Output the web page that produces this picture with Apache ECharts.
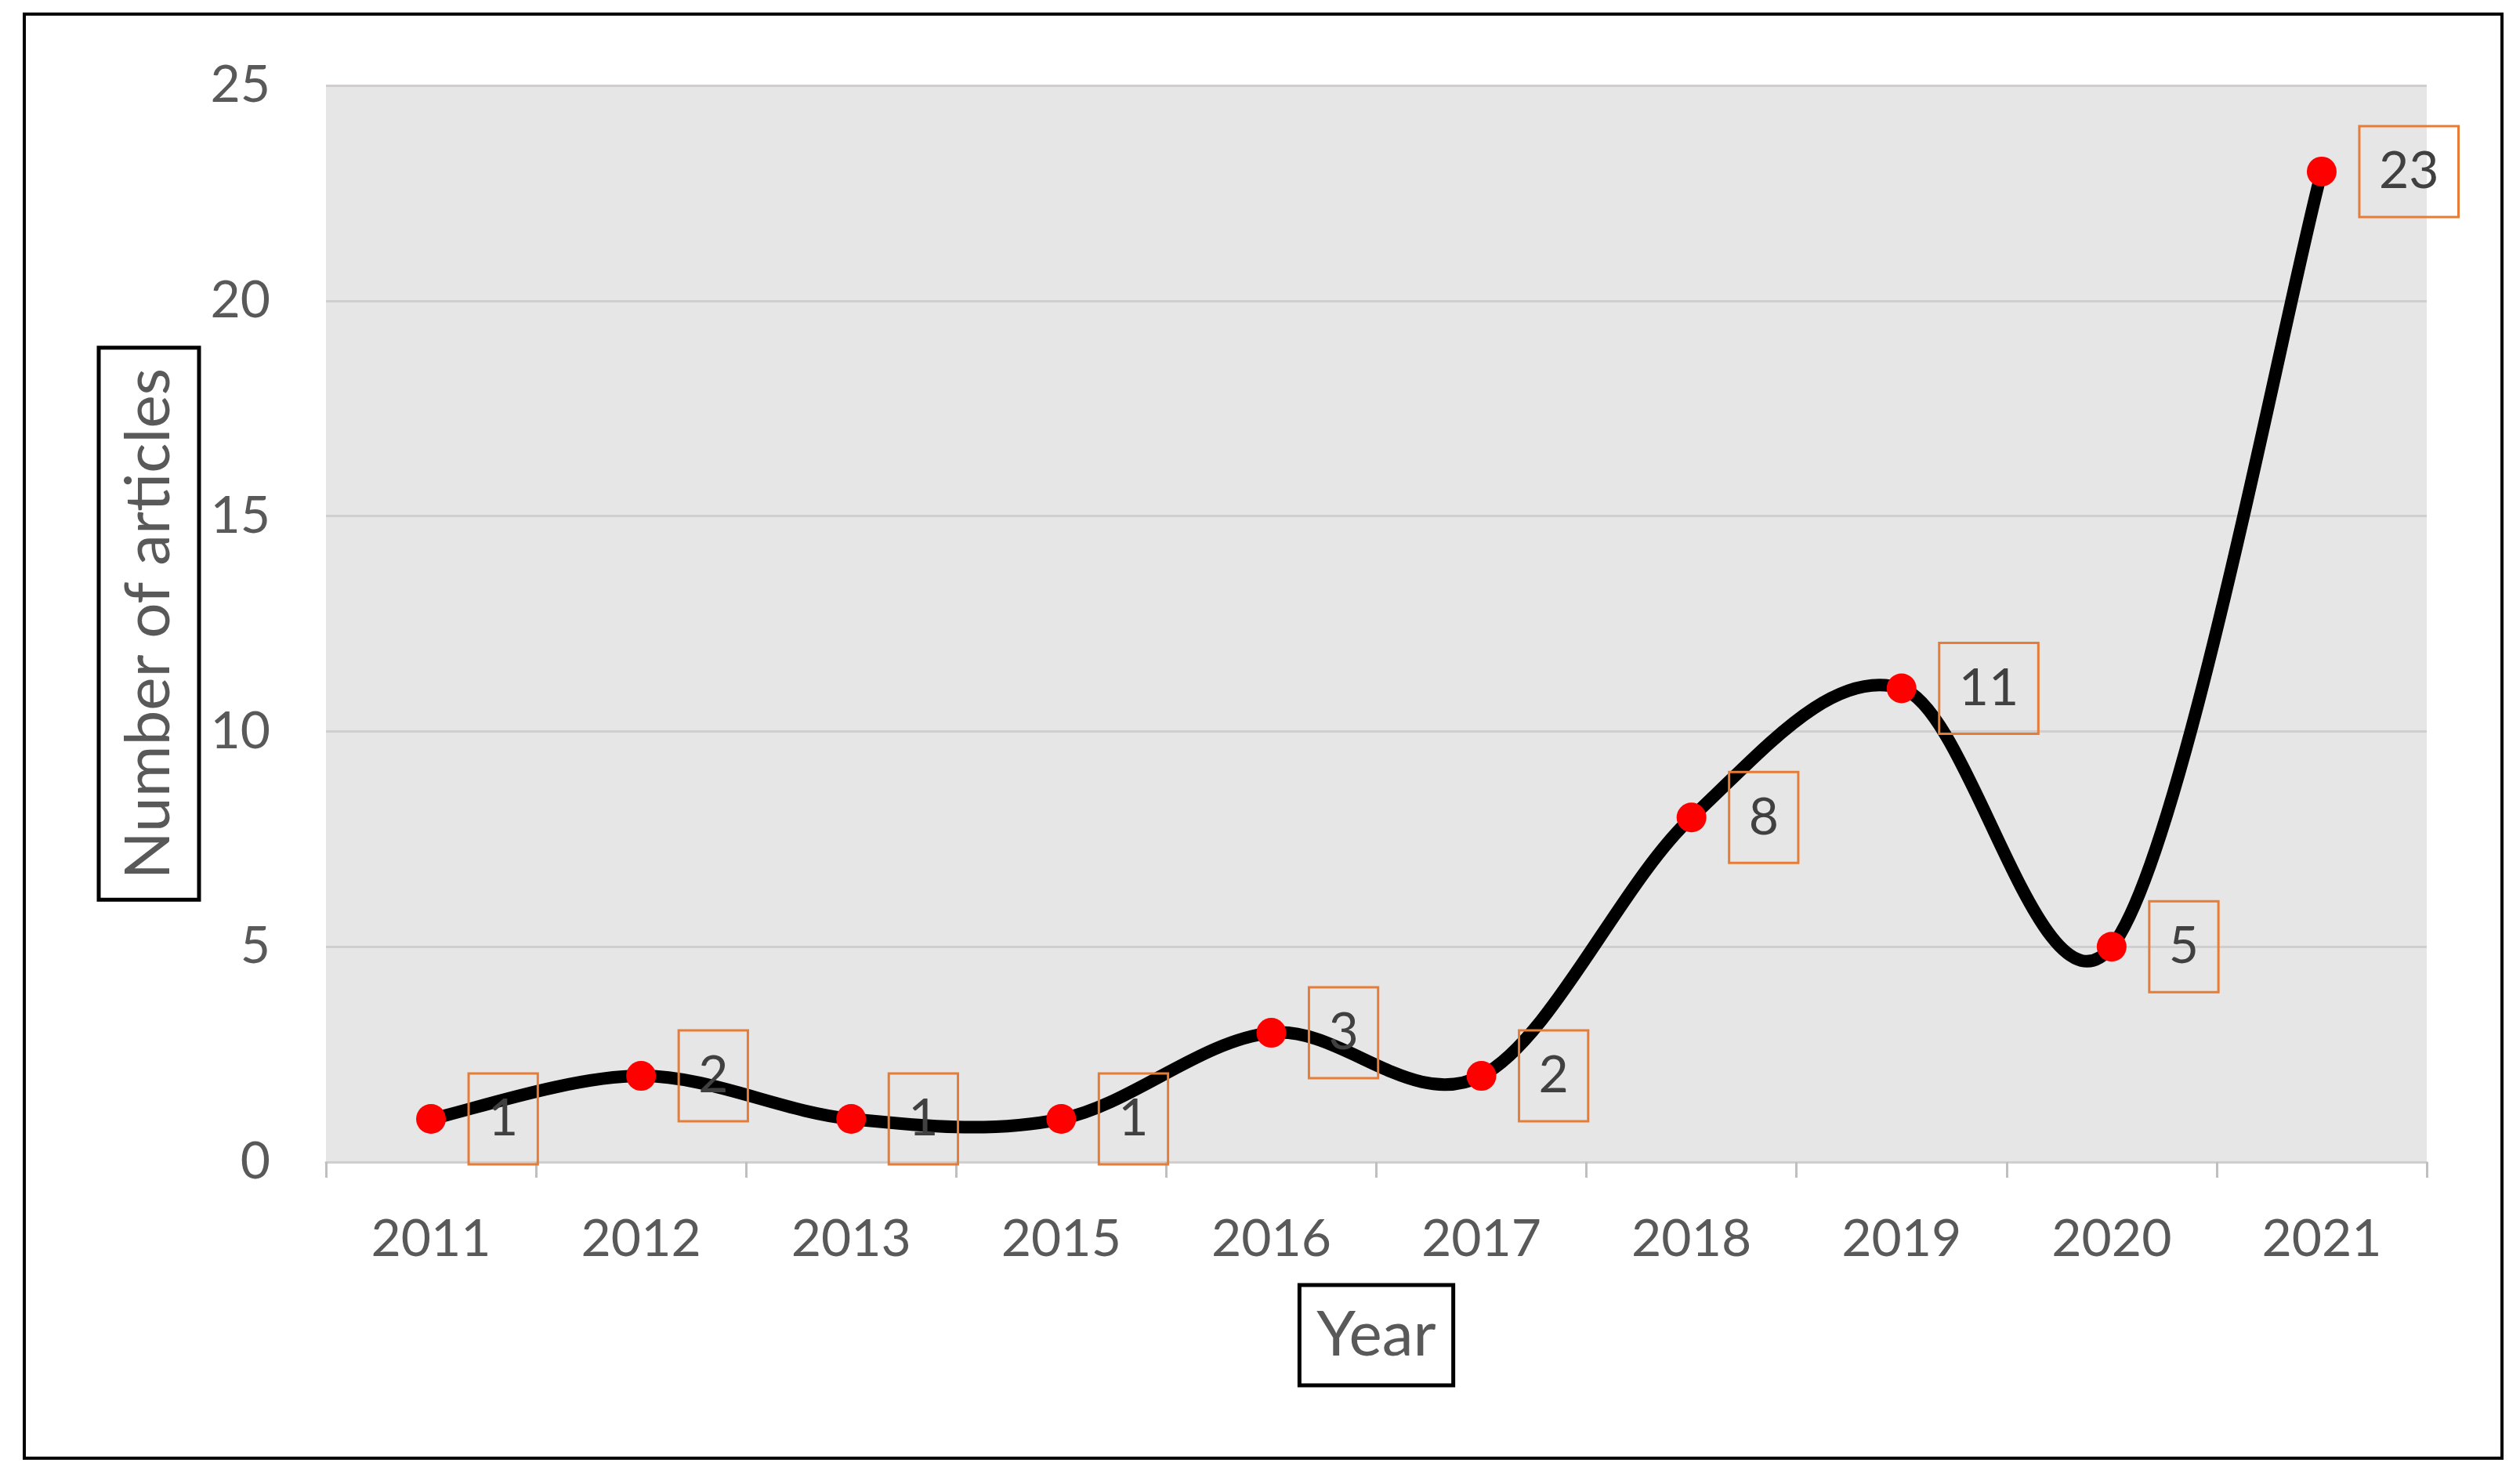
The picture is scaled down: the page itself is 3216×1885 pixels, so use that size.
<!DOCTYPE html>
<html>
<head>
<meta charset="utf-8">
<script src="https://cdn.jsdelivr.net/npm/echarts@6/dist/echarts.min.js"></script>
<style>
html,body{margin:0;padding:0;background:#fff;}
#chart{width:3216px;height:1885px;}
</style>
</head>
<body>
<div id="chart"></div>
<script>
const years = ['2011','2012','2013','2015','2016','2017','2018','2019','2020','2021'];
const articles = [1, 2, 1, 1, 3, 2, 8, 11, 5, 23];
const yTicks = {min: 0, max: 25, interval: 5};
const xTitle = 'Year';
const yTitle = 'Number of articles';

const chart = echarts.init(document.getElementById('chart'), null, {renderer: 'canvas'});
const FONT = 'Lato';

// Excel-style smoothed line: cubic Bezier segments with Catmull-Rom (1/6) control points,
// computed in pixel space from the data via the chart's own scales.
function renderSmoothSegment(params, api) {
  const i = params.dataIndex;
  const n = articles.length;
  if (i >= n - 1) return null;
  const P = k => {
    const j = Math.max(0, Math.min(n - 1, k));
    return api.coord([j, articles[j]]);
  };
  const p0 = P(i - 1), p1 = P(i), p2 = P(i + 1), p3 = P(i + 2);
  const t = 1 / 6;
  return {
    type: 'bezierCurve',
    shape: {
      x1: p1[0], y1: p1[1], x2: p2[0], y2: p2[1],
      cpx1: p1[0] + (p2[0] - p0[0]) * t, cpy1: p1[1] + (p2[1] - p0[1]) * t,
      cpx2: p2[0] - (p3[0] - p1[0]) * t, cpy2: p2[1] - (p3[1] - p1[1]) * t
    },
    style: {fill: null, stroke: '#000000', lineWidth: 16, lineCap: 'round'},
    silent: true
  };
}

chart.setOption({
  backgroundColor: '#ffffff',
  animation: false,
  graphic: [{
    type: 'rect',
    shape: {x: 31, y: 18, width: 3162, height: 1843},
    style: {fill: 'none', stroke: '#000', lineWidth: 4},
    z: 0
  }],
  grid: {
    left: 416, right: 119, top: 109, bottom: 402,
    show: true, backgroundColor: '#e7e6e6', borderWidth: 0
  },
  xAxis: {
    type: 'category',
    data: years,
    boundaryGap: true,
    name: xTitle,
    nameLocation: 'middle',
    nameGap: 157,
    nameTextStyle: {
      fontFamily: FONT, fontSize: 80, color: '#595959',
      borderColor: '#000', borderWidth: 5, padding: [22, 22], lineHeight: 84
    },
    axisLine: {show: true, lineStyle: {color: '#d0cece', width: 3}},
    axisTick: {show: true, alignWithLabel: false, length: 20, lineStyle: {color: '#bfbfbf', width: 3}},
    axisLabel: {fontFamily: FONT, fontSize: 66, color: '#595959', margin: 66}
  },
  yAxis: {
    type: 'value',
    min: yTicks.min, max: yTicks.max, interval: yTicks.interval,
    name: yTitle,
    nameLocation: 'middle',
    nameRotate: 90,
    nameGap: 162,
    nameTextStyle: {
      fontFamily: FONT, fontSize: 80, color: '#595959',
      borderColor: '#000', borderWidth: 5, padding: [22, 26], lineHeight: 84
    },
    axisLine: {show: false},
    axisTick: {show: false},
    splitLine: {show: true, lineStyle: {color: '#d0cece', width: 3}},
    axisLabel: {fontFamily: FONT, fontSize: 66, color: '#595959', margin: 71}
  },
  series: [{
    type: 'custom',
    data: articles.map((v, i) => [i, v]),
    renderItem: renderSmoothSegment,
    encode: {x: 0, y: 1},
    z: 2,
    silent: true
  }, {
    type: 'line',
    data: articles,
    symbol: 'circle',
    symbolSize: 38,
    itemStyle: {color: '#ff0000', borderWidth: 0},
    lineStyle: {width: 0, opacity: 0},
    z: 3,
    label: {
      show: true,
      position: 'right',
      distance: 29,
      fontFamily: FONT, fontSize: 66, color: '#404040',
      borderColor: '#e67c36', borderWidth: 3,
      padding: [19, 25], lineHeight: 78
    }
  }]
});
</script>
</body>
</html>
